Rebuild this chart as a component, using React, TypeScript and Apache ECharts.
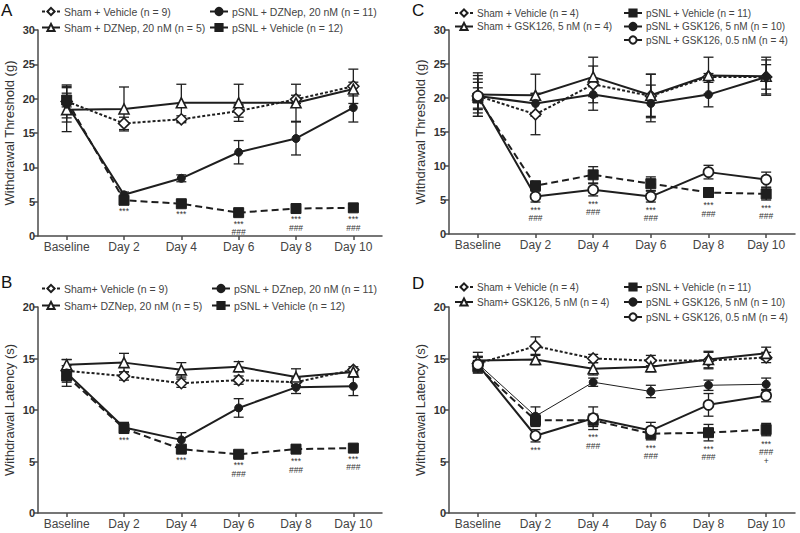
import React, { useEffect, useRef } from "react";
import * as echarts from "echarts";

const days = ["Baseline", "Day 2", "Day 4", "Day 6", "Day 8", "Day 10"];

// ---------- Panel A: withdrawal threshold (g), DZNep ----------
const aNames = ["Sham + Vehicle (n = 9)", "Sham + DZNep, 20 nM (n = 5)", "pSNL + DZNep, 20 nM (n = 11)", "pSNL + Vehicle (n = 12)"];
const aShamVeh = [19.6, 16.4, 17.0, 18.2, 19.9, 21.8];
const aShamVehErr = [2.4, 0.9, 0.5, 0.9, 0.6, 2.5];
const aShamDrug = [18.4, 18.5, 19.4, 19.4, 19.4, 21.4];
const aShamDrugErr = [3.2, 3.2, 2.7, 2.7, 2.7, 1.0];
const aPsnlDrug = [19.2, 6.0, 8.4, 12.2, 14.2, 18.7];
const aPsnlDrugErr = [2.6, 0.4, 0.5, 1.7, 2.4, 2.1];
const aPsnlVeh = [19.8, 5.2, 4.7, 3.4, 4.0, 4.1];
const aPsnlVehErr = [1.0, 0.4, 0.4, 0.5, 0.4, 0.5];
const aSig = ["", "***", "***", "***\n###", "***\n###", "***\n###"];

// ---------- Panel B: withdrawal latency (s), DZNep ----------
const bNames = ["Sham+ Vehicle (n = 9)", "Sham+ DZNep, 20 nM (n = 5)", "pSNL + DZnep, 20 nM (n = 11)", "pSNL + Vehicle (n = 12)"];
const bShamVeh = [13.8, 13.3, 12.6, 12.9, 12.7, 13.9];
const bShamVehErr = [0.5, 0.4, 0.4, 0.4, 0.4, 0.3];
const bShamDrug = [14.4, 14.6, 13.9, 14.2, 13.2, 13.7];
const bShamDrugErr = [0.5, 0.9, 0.7, 0.5, 0.8, 0.3];
const bPsnlDrug = [13.6, 8.3, 7.1, 10.2, 12.2, 12.3];
const bPsnlDrugErr = [1.3, 0.5, 0.7, 0.9, 0.6, 0.9];
const bPsnlVeh = [13.3, 8.2, 6.2, 5.7, 6.2, 6.3];
const bPsnlVehErr = [0.6, 0.4, 0.3, 0.3, 0.4, 0.3];
const bSig = ["", "***", "***", "***\n###", "***\n###", "***\n###"];

// ---------- Panel C: withdrawal threshold (g), GSK126 ----------
const cNames = ["Sham + Vehicle (n = 4)", "Sham + GSK126, 5 nM (n = 4)", "pSNL + Vehicle (n = 11)", "pSNL + GSK126, 5 nM (n = 10)", "pSNL + GSK126, 0.5 nM (n = 4)"];
const cShamVeh = [20.3, 17.6, 22.0, 20.3, 23.1, 23.1];
const cShamVehErr = [3.0, 3.0, 2.7, 3.2, 0.5, 1.8];
const cShamDrug = [20.5, 20.4, 23.1, 20.4, 23.3, 23.2];
const cShamDrugErr = [3.2, 3.1, 2.9, 3.1, 2.7, 2.8];
const cPsnlVeh = [20.0, 7.1, 8.7, 7.4, 6.1, 5.9];
const cPsnlVehErr = [1.5, 0.5, 1.2, 1.0, 0.7, 0.9];
const cPsnlDrug = [20.3, 19.2, 20.5, 19.2, 20.5, 23.1];
const cPsnlDrugErr = [2.0, 1.5, 2.3, 2.7, 1.8, 2.5];
const cPsnlLow = [20.3, 5.5, 6.5, 5.5, 9.1, 8.0];
const cPsnlLowErr = [2.5, 0.8, 0.9, 0.8, 1.0, 1.1];
const cSig = ["", "***\n###", "***\n###", "***\n###", "***\n###", "***\n###"];

// ---------- Panel D: withdrawal latency (s), GSK126 ----------
const dNames = ["Sham + Vehicle (n = 4)", "Sham+ GSK126, 5 nM (n = 4)", "pSNL + Vehicle (n = 11)", "pSNL + GSK126, 5 nM (n = 10)", "pSNL + GSK126, 0.5 nM (n = 4)"];
const dShamVeh = [14.5, 16.2, 15.0, 14.8, 14.8, 15.1];
const dShamVehErr = [0.6, 0.9, 0.4, 0.5, 0.8, 0.5];
const dShamDrug = [14.8, 14.9, 14.0, 14.2, 14.9, 15.5];
const dShamDrugErr = [0.8, 0.5, 0.6, 0.5, 0.8, 0.6];
const dPsnlVeh = [14.2, 9.0, 9.0, 7.7, 7.8, 8.1];
const dPsnlVehErr = [0.6, 0.6, 0.6, 0.6, 0.8, 0.6];
const dPsnlDrug = [14.5, 9.4, 12.7, 11.8, 12.4, 12.5];
const dPsnlDrugErr = [0.7, 0.9, 0.4, 0.6, 0.5, 0.6];
const dPsnlLow = [14.4, 7.5, 9.2, 8.0, 10.5, 11.4];
const dPsnlLowErr = [0.8, 0.6, 1.1, 0.8, 1.1, 0.6];
const dSig = ["", "***", "***\n###", "***\n###", "***\n###", "***\n###\n+"];

const FONT = "'Liberation Sans', Arial, Helvetica, sans-serif";
const INK = "#1e1e1e";

type Kind = "shamVeh" | "shamDrug" | "pSnlDrug" | "pSnlVeh" | "pSnlLow" | "pSnlDrugThin";

function styleFor(kind: Kind): any {
  switch (kind) {
    case "shamVeh":
      return { symbol: "diamond", symbolSize: 11, itemStyle: { color: "#fff", borderColor: INK, borderWidth: 1.6 }, lineStyle: { color: INK, width: 2, type: [3, 2] } };
    case "shamDrug":
      return { symbol: "triangle", symbolSize: 10, itemStyle: { color: "#fff", borderColor: INK, borderWidth: 1.6 }, lineStyle: { color: INK, width: 2, type: "solid" } };
    case "pSnlDrug":
      return { symbol: "circle", symbolSize: 8, itemStyle: { color: INK, borderColor: INK, borderWidth: 1 }, lineStyle: { color: INK, width: 2, type: "solid" } };
    case "pSnlDrugThin":
      return { symbol: "circle", symbolSize: 8, itemStyle: { color: INK, borderColor: INK, borderWidth: 1 }, lineStyle: { color: INK, width: 1, type: "solid" } };
    case "pSnlVeh":
      return { symbol: "rect", symbolSize: 10, itemStyle: { color: INK, borderColor: INK, borderWidth: 1 }, lineStyle: { color: INK, width: 2, type: [7, 4] } };
    case "pSnlLow":
      return { symbol: "circle", symbolSize: 10, itemStyle: { color: "#fff", borderColor: INK, borderWidth: 1.7 }, lineStyle: { color: INK, width: 2, type: "solid" } };
  }
}

type Def = { name: string; kind: Kind; mean: number[]; err: number[] };

const errRender = (params: any, api: any) => {
  const i = api.value(0);
  const m = api.value(1);
  const e = api.value(2);
  const top = api.coord([i, m + e]);
  const bot = api.coord([i, m - e]);
  const cx = top[0];
  const w = 5;
  const st = { stroke: INK, lineWidth: 1.3 };
  return {
    type: "group",
    children: [
      { type: "line", shape: { x1: cx, y1: top[1], x2: cx, y2: bot[1] }, style: st },
      { type: "line", shape: { x1: cx - w, y1: top[1], x2: cx + w, y2: top[1] }, style: st },
      { type: "line", shape: { x1: cx - w, y1: bot[1], x2: cx + w, y2: bot[1] }, style: st },
    ],
  };
};

function panelSeries(p: number, defs: Def[], sig: string[]): any[] {
  const out: any[] = [];
  defs.forEach((d, k) => {
    out.push({
      type: "custom",
      name: "err-" + p + "-" + k,
      xAxisIndex: p,
      yAxisIndex: p,
      z: 2,
      silent: true,
      renderItem: errRender,
      encode: { x: 0, y: 1 },
      data: d.mean.map((m, i) => [i, m, d.err[i]]),
    });
  });
  defs.forEach((d) => {
    out.push({
      type: "line",
      name: d.name,
      xAxisIndex: p,
      yAxisIndex: p,
      z: 3,
      silent: true,
      showAllSymbol: true,
      ...styleFor(d.kind),
      data: d.mean,
    });
  });
  const anchors = days.map((_, i) => Math.min(...defs.map((d) => d.mean[i] - d.err[i])));
  out.push({
    type: "custom",
    name: "sig-" + p,
    xAxisIndex: p,
    yAxisIndex: p,
    z: 4,
    silent: true,
    encode: { x: 0, y: 1 },
    data: days.map((_, i) => [i, anchors[i], i]).filter((r) => sig[r[2]] !== ""),
    renderItem: (params: any, api: any) => {
      const i = api.value(0);
      const pt = api.coord([i, api.value(1)]);
      return {
        type: "text",
        x: pt[0],
        y: pt[1] + 3.5,
        style: {
          text: sig[api.value(2)],
          fontSize: 8.5,
          lineHeight: 8.5,
          fontFamily: FONT,
          fill: "#333",
          align: "center",
          verticalAlign: "top",
        },
      };
    },
  });
  return out;
}

function App() {
  const ref = useRef<HTMLDivElement>(null);
  useEffect(() => {
    if (!ref.current) return;
    const chart = echarts.init(ref.current, undefined, { renderer: "svg" });

    const grids = [
      { left: 38, top: 30, width: 344, height: 206 },
      { left: 38, top: 307, width: 344, height: 206 },
      { left: 449, top: 30, width: 346, height: 204 },
      { left: 449, top: 307, width: 346, height: 206 },
    ];
    const yMax = [30, 20, 30, 20];
    const yNames = ["Withdrawal Threshold (g)", "Withdrawal Latency (s)", "Withdrawal Threshold (g)", "Withdrawal Latency (s)"];

    const axisLine = { show: true, lineStyle: { color: "#4a4a4a", width: 1.5 } };

    const xAxis = grids.map((_, p) => ({
      type: "category",
      gridIndex: p,
      data: days,
      boundaryGap: true,
      axisLine,
      axisTick: { show: true, alignWithLabel: true, length: 4, lineStyle: { color: "#4a4a4a", width: 1.5 } },
      axisLabel: { fontSize: 12, color: "#444", fontFamily: FONT, margin: 5, interval: 0 },
      splitLine: { show: false },
    }));
    const yAxis = grids.map((_, p) => ({
      type: "value",
      gridIndex: p,
      min: 0,
      max: yMax[p],
      interval: 5,
      name: yNames[p],
      nameLocation: "middle",
      nameGap: 22,
      nameTextStyle: { fontSize: 13, color: "#333", fontFamily: FONT },
      axisLine,
      axisTick: { show: true, length: 4, lineStyle: { color: "#4a4a4a", width: 1.5 } },
      axisLabel: { fontSize: 11, fontWeight: "bold", color: "#333", fontFamily: FONT, margin: 3 },
      splitLine: { show: false },
    }));

    const defsA: Def[] = [
      { name: aNames[0], kind: "shamVeh", mean: aShamVeh, err: aShamVehErr },
      { name: aNames[1], kind: "shamDrug", mean: aShamDrug, err: aShamDrugErr },
      { name: aNames[2], kind: "pSnlDrug", mean: aPsnlDrug, err: aPsnlDrugErr },
      { name: aNames[3], kind: "pSnlVeh", mean: aPsnlVeh, err: aPsnlVehErr },
    ];
    const defsB: Def[] = [
      { name: bNames[0], kind: "shamVeh", mean: bShamVeh, err: bShamVehErr },
      { name: bNames[1], kind: "shamDrug", mean: bShamDrug, err: bShamDrugErr },
      { name: bNames[2], kind: "pSnlDrug", mean: bPsnlDrug, err: bPsnlDrugErr },
      { name: bNames[3], kind: "pSnlVeh", mean: bPsnlVeh, err: bPsnlVehErr },
    ];
    const defsC: Def[] = [
      { name: cNames[0], kind: "shamVeh", mean: cShamVeh, err: cShamVehErr },
      { name: cNames[1], kind: "shamDrug", mean: cShamDrug, err: cShamDrugErr },
      { name: cNames[2], kind: "pSnlVeh", mean: cPsnlVeh, err: cPsnlVehErr },
      { name: cNames[3], kind: "pSnlDrug", mean: cPsnlDrug, err: cPsnlDrugErr },
      { name: cNames[4], kind: "pSnlLow", mean: cPsnlLow, err: cPsnlLowErr },
    ];
    const defsD: Def[] = [
      { name: dNames[0], kind: "shamVeh", mean: dShamVeh, err: dShamVehErr },
      { name: dNames[1], kind: "shamDrug", mean: dShamDrug, err: dShamDrugErr },
      { name: dNames[2], kind: "pSnlVeh", mean: dPsnlVeh, err: dPsnlVehErr },
      { name: dNames[3], kind: "pSnlDrugThin", mean: dPsnlDrug, err: dPsnlDrugErr },
      { name: dNames[4], kind: "pSnlLow", mean: dPsnlLow, err: dPsnlLowErr },
    ];

    const series = [
      ...panelSeries(0, defsA, aSig),
      ...panelSeries(1, defsB, bSig),
      ...panelSeries(2, defsC, cSig),
      ...panelSeries(3, defsD, dSig),
    ];

    const legendBase = {
      orient: "vertical",
      itemWidth: 18,
      itemHeight: 9,
      itemGap: 5,
      padding: 0,
      selectedMode: false,
      textStyle: { fontSize: 10.5, color: "#444", fontFamily: FONT, padding: [0, 0, 0, -1] },
    };
    const legendSmall = { ...legendBase, textStyle: { ...legendBase.textStyle, fontSize: 10 } };
    const legend = [
      { ...legendBase, left: 41, top: 6, data: aNames.slice(0, 2) },
      { ...legendBase, left: 209, top: 6, data: aNames.slice(2) },
      { ...legendBase, left: 41, top: 283, itemGap: 6, data: bNames.slice(0, 2) },
      { ...legendBase, left: 211, top: 283, itemGap: 6, data: bNames.slice(2) },
      { ...legendSmall, left: 454, top: 8, itemGap: 3.5, data: cNames.slice(0, 2) },
      { ...legendSmall, left: 623, top: 8, itemGap: 3.5, data: cNames.slice(2) },
      { ...legendSmall, left: 454, top: 282, itemGap: 5, data: dNames.slice(0, 2) },
      { ...legendSmall, left: 623, top: 282, itemGap: 5, data: dNames.slice(2) },
    ];

    const letter = (t: string, x: number, y: number) => ({
      type: "text",
      left: x,
      top: y,
      style: { text: t, fontSize: 17, fontFamily: FONT, fill: "#111" },
    });

    chart.setOption({
      animation: false,
      backgroundColor: "#fff",
      grid: grids.map((g) => ({ ...g, containLabel: false, outerBoundsMode: "none" })),
      xAxis,
      yAxis,
      legend,
      series,
      graphic: [letter("A", 1, 2), letter("B", 1, 274), letter("C", 412, 2), letter("D", 412, 275)],
    });
    return () => chart.dispose();
  }, []);
  return <div ref={ref} style={{ position: "fixed", left: 0, top: 0, width: 800, height: 533 }} />;
}

export default App;
